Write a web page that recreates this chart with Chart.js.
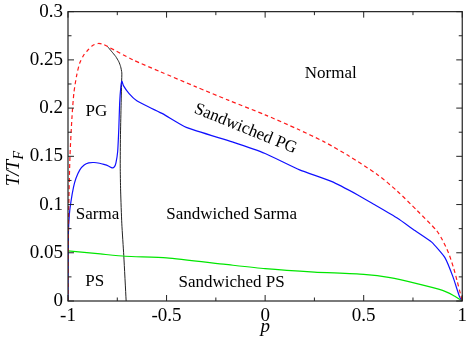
<!DOCTYPE html>
<html>
<head>
<meta charset="utf-8">
<script src="https://cdn.jsdelivr.net/npm/chart.js@4.4.0/dist/chart.umd.min.js"></script>
<style>
html,body{margin:0;padding:0;background:#fff;}
#wrap{width:471px;height:340px;}
</style>
</head>
<body>
<div id="wrap"><canvas id="c" width="471" height="340"></canvas></div>
<script>
// Normal / superfluid boundary (red dashed)
const redP = [-1, -0.999, -0.996, -0.99, -0.98, -0.97, -0.955, -0.94, -0.92, -0.9, -0.875, -0.846, -0.82, -0.8, -0.67, -0.535, -0.35, -0.184, 0, 0.167, 0.3, 0.42, 0.57, 0.67, 0.77, 0.87, 0.9, 0.93, 0.955, 0.975, 0.99, 1];
const redT = [0, 0.05, 0.1, 0.15, 0.19, 0.216, 0.235, 0.247, 0.255, 0.26, 0.265, 0.267, 0.266, 0.264, 0.25, 0.238, 0.222, 0.208, 0.193, 0.178, 0.165, 0.151, 0.131, 0.114, 0.094, 0.073, 0.063, 0.05, 0.035, 0.02, 0.008, 0];
// PG boundary (blue)
const blueP = [-1, -0.998, -0.993, -0.985, -0.972, -0.96, -0.94, -0.918, -0.895, -0.868, -0.84, -0.818, -0.795, -0.776, -0.765, -0.757, -0.748, -0.742, -0.738, -0.732, -0.727, -0.718, -0.69, -0.651, -0.585, -0.518, -0.4, -0.167, 0, 0.175, 0.336, 0.47, 0.554, 0.67, 0.76, 0.845, 0.912, 0.953, 0.987, 1];
const blueT = [0, 0.07, 0.09, 0.103, 0.118, 0.127, 0.136, 0.141, 0.1432, 0.1436, 0.1428, 0.1416, 0.14, 0.138, 0.139, 0.143, 0.155, 0.18, 0.205, 0.222, 0.228, 0.223, 0.215, 0.2075, 0.2006, 0.194, 0.18, 0.165, 0.153, 0.136, 0.124, 0.11, 0.1, 0.086, 0.073, 0.061, 0.045, 0.025, 0.004, 0];
// PS boundary (green)
const greenP = [-1, -0.836, -0.71, -0.5, -0.2, 0, 0.25, 0.5, 0.634, 0.77, 0.9, 0.953, 0.987, 1];
const greenT = [0.052, 0.0488, 0.0464, 0.0447, 0.0379, 0.0335, 0.03, 0.0276, 0.0243, 0.018, 0.011, 0.006, 0.0017, 0];
// First-order line (black)
const blackP = [-0.8, -0.78, -0.758, -0.742, -0.733, -0.727, -0.728, -0.731, -0.734, -0.735, -0.733, -0.727, -0.717, -0.705];
const blackT = [0.264, 0.259, 0.2535, 0.248, 0.243, 0.2365, 0.227, 0.2, 0.17, 0.14, 0.114, 0.08, 0.047, 0];

const xTickValues = [-1, -0.5, 0, 0.5, 1];
const yTickValues = [0, 0.05, 0.1, 0.15, 0.2, 0.25, 0.3];

// Region labels: [text, p, T, rotation(deg)]
const regionLabels = [
  ["Normal", 0.333, 0.2357, 0],
  ["PG", -0.856, 0.1966, 0],
  ["Sarma", -0.85, 0.0895, 0],
  ["PS", -0.864, 0.0197, 0],
  ["Sandwiched PG", -0.10, 0.1786, 22],
  ["Sandwiched Sarma", -0.17, 0.0898, 0],
  ["Sandwiched PS", -0.17, 0.0187, 0]
];

const toXY = (P, T) => P.map((p, i) => ({x: p, y: T[i]}));
const fmt = v => String(Math.round(v * 1000) / 1000);
const SERIF = "'Liberation Serif', 'DejaVu Serif', serif";

const framePlugin = {
  id: 'frame',
  afterDraw(chart) {
    const {ctx, chartArea: a, scales} = chart;
    const xs = scales.x, ys = scales.y;
    ctx.save();
    ctx.strokeStyle = '#222';
    ctx.lineWidth = 1.2;
    ctx.strokeRect(a.left, a.top, a.right - a.left, a.bottom - a.top);
    ctx.lineWidth = 1;
    ctx.beginPath();
    for (let i = 0; i <= 12; i++) {
      const v = i * 0.025;
      const py = ys.getPixelForValue(v);
      const len = (i % 2 === 0) ? 6 : 3.5;
      ctx.moveTo(a.left, py); ctx.lineTo(a.left + len, py);
      ctx.moveTo(a.right, py); ctx.lineTo(a.right - len, py);
    }
    for (let i = 0; i <= 8; i++) {
      const v = -1 + i * 0.25;
      const px = xs.getPixelForValue(v);
      const len = (i % 2 === 0) ? 6 : 3.5;
      ctx.moveTo(px, a.bottom); ctx.lineTo(px, a.bottom - len);
      ctx.moveTo(px, a.top); ctx.lineTo(px, a.top + len);
    }
    ctx.stroke();

    // region labels
    ctx.fillStyle = '#000';
    ctx.font = "17px " + SERIF;
    ctx.textAlign = 'center';
    ctx.textBaseline = 'middle';
    regionLabels.forEach(([t, p, T, rot]) => {
      const px = xs.getPixelForValue(p), py = ys.getPixelForValue(T);
      ctx.save();
      ctx.translate(px, py);
      ctx.rotate(rot * Math.PI / 180);
      ctx.fillText(t, 0, 0);
      ctx.restore();
    });

    // y axis title T/T_F
    ctx.save();
    const midY = (a.top + a.bottom) / 2;
    ctx.translate(19, midY + 30);
    ctx.rotate(-Math.PI / 2);
    ctx.textAlign = 'left';
    ctx.textBaseline = 'alphabetic';
    ctx.font = "italic 19px " + SERIF;
    ctx.fillText("T/T", 0, 0);
    const w = ctx.measureText("T/T").width;
    ctx.font = "italic 14px " + SERIF;
    ctx.fillText("F", w + 0.5, 4);
    ctx.restore();
    ctx.restore();
  }
};

new Chart(document.getElementById('c'), {
  type: 'scatter',
  data: {
    datasets: [
      {label: 'Normal', data: toXY(redP, redT), showLine: true, borderColor: '#ff1a1a', borderWidth: 1.2, borderDash: [4, 3], pointRadius: 0, tension: 0.25, fill: false},
      {label: 'PG', data: toXY(blueP, blueT), showLine: true, borderColor: '#1010ff', borderWidth: 1.2, pointRadius: 0, tension: 0.15, fill: false},
      {label: 'PS', data: toXY(greenP, greenT), showLine: true, borderColor: '#00e600', borderWidth: 1.2, pointRadius: 0, tension: 0.2, fill: false},
      {label: 'First order', data: toXY(blackP, blackT), showLine: true, borderColor: '#222', borderWidth: 1, pointRadius: 0, tension: 0.2, fill: false}
    ]
  },
  options: {
    responsive: false,
    animation: false,
    layout: {padding: {top: 7, right: 6, left: 0, bottom: 0}},
    plugins: {legend: {display: false}, tooltip: {enabled: false}},
    scales: {
      x: {
        type: 'linear', min: -1, max: 1,
        afterBuildTicks: s => { s.ticks = xTickValues.map(v => ({value: v})); },
        afterFit: s => { s.height = 39; },
        grid: {display: false, drawTicks: false},
        border: {display: false},
        ticks: {color: '#000', padding: 4, font: {family: SERIF, size: 19}, maxRotation: 0, callback: v => fmt(v)},
        title: {display: true, text: 'p', color: '#000', font: {family: SERIF, size: 19, style: 'italic'}, padding: {top: 0, bottom: 2}}
      },
      y: {
        type: 'linear', min: 0, max: 0.3,
        afterBuildTicks: s => { s.ticks = yTickValues.map(v => ({value: v})); },
        afterFit: s => { s.width = 68; },
        grid: {display: false, drawTicks: false},
        border: {display: false},
        ticks: {color: '#000', padding: 5, font: {family: SERIF, size: 19, lineHeight: 0.7}, callback: v => fmt(v)}
      }
    }
  },
  plugins: [framePlugin]
});
</script>
</body>
</html>
